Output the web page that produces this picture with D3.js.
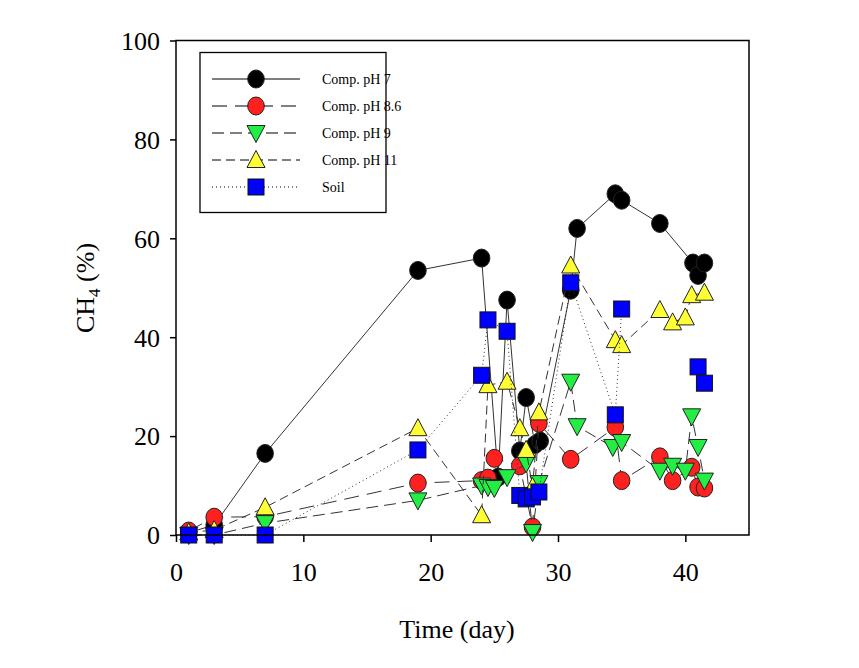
<!DOCTYPE html>
<html><head><meta charset="utf-8">
<script src="https://cdn.jsdelivr.net/npm/d3@7"></script>
<style>body{margin:0;background:#fff}svg{display:block}</style>
</head><body>
<svg id="chart" width="859" height="668"></svg>
<script>
// ---- data ----
const seriesNames = ["Comp. pH 7","Comp. pH 8.6","Comp. pH 9","Comp. pH 11","Soil"];
const ph7X = [1,3,7,19,24,25.3,26,27,27.5,28.2,28.6,31,31.5,34.5,35,38,40.6,41,41.5];
const ph7Y = [0.5,2,16.5,53.5,56,11.7,47.5,17,27.8,18.3,19,49.5,62,69,67.7,63,55,52.5,55];
const ph86X = [1,3,7,19,24,24.5,25,27,28,28.5,31,34.5,35,38,39,40.5,41,41.5];
const ph86Y = [0.8,3.6,3.7,10.5,11,11.5,15.5,14,1.6,22.6,15.3,21.8,11,15.8,11,13.7,9.7,9.5];
const ph9X = [1,3,7,19,24,24.5,25,26,27.5,28,28.5,31,31.5,34.3,35,38,39,40,40.5,41,41.5];
const ph9Y = [0,0,2.4,7,10,9.7,9.5,11.7,14.5,0.6,10.5,31,22,17.8,18.8,13,14,13,24,17.8,11];
const ph11X = [1,3,7,19,24,24.5,26,27,27.5,28,28.5,31,34.5,35,38,39,40,40.5,41.5];
const ph11Y = [0.5,1,5.6,21.6,4,30.3,31,21.6,17.2,9.7,24.8,54.5,39.4,38.4,45.5,43,44,48.5,49];
const soilX = [1,3,7,19,24,24.5,26,27,27.5,28,28.5,31,34.5,35,38,41,41.5];
const soilY = [0,0,0,17.2,32.3,43.5,41.2,8,7.3,7.7,8.7,51,24.3,45.7,null,34,30.7];
const xTicks = [0,10,20,30,40];
const yTicks = [0,20,40,60,80,100];

const svg = d3.select("#chart");
const x = d3.scaleLinear().domain([0,45]).range([176,749]);
const y = d3.scaleLinear().domain([0,100]).range([535,40.5]);
const FONT = "'Liberation Serif','Times New Roman',serif";

const series = [
  {name:seriesNames[0], xs:ph7X, ys:ph7Y, shape:"circle", fill:"#000000", dash:null},
  {name:seriesNames[1], xs:ph86X, ys:ph86Y, shape:"circle", fill:"#ff2020", dash:"15,8"},
  {name:seriesNames[2], xs:ph9X, ys:ph9Y, shape:"down", fill:"#22ee44", dash:"12,6"},
  {name:seriesNames[3], xs:ph11X, ys:ph11Y, shape:"up", fill:"#ffff33", dash:"9,5"},
  {name:seriesNames[4], xs:soilX, ys:soilY, shape:"square", fill:"#0000ff", dash:"1,3"}
];

function drawMarker(g, shape, cx, cy, fill){
  if(shape==="circle"){
    g.append("ellipse").attr("cx",cx).attr("cy",cy).attr("rx",8.3).attr("ry",9)
      .attr("fill",fill).attr("stroke","#222").attr("stroke-width",1);
  } else if(shape==="up"){
    g.append("path").attr("d",`M${cx},${cy-9.5}L${cx+9},${cy+7.5}L${cx-9},${cy+7.5}Z`)
      .attr("fill",fill).attr("stroke","#222").attr("stroke-width",1);
  } else if(shape==="down"){
    g.append("path").attr("d",`M${cx},${cy+9.5}L${cx+9},${cy-7.5}L${cx-9},${cy-7.5}Z`)
      .attr("fill",fill).attr("stroke","#222").attr("stroke-width",1);
  } else {
    g.append("rect").attr("x",cx-8).attr("y",cy-8).attr("width",16).attr("height",16)
      .attr("fill",fill).attr("stroke","#111").attr("stroke-width",1);
  }
}

// plot series
const line = d3.line().defined(d=>d[1]!=null).x(d=>x(d[0])).y(d=>y(d[1]));
series.forEach(s=>{
  const g = svg.append("g");
  const pts = s.xs.map((v,i)=>[v,s.ys[i]]);
  g.append("path").attr("d",line(pts)).attr("fill","none")
    .attr("stroke","#333").attr("stroke-width",1)
    .attr("stroke-dasharray",s.dash);
  pts.filter(p=>p[1]!=null).forEach(p=>drawMarker(g,s.shape,x(p[0]),y(p[1]),s.fill));
});

// frame
svg.append("rect").attr("x",176).attr("y",40.5).attr("width",573).attr("height",494.5)
  .attr("fill","none").attr("stroke","#000").attr("stroke-width",1.5);

// axes
const xAxis = d3.axisBottom(x).tickValues(xTicks).tickSize(7).tickSizeOuter(0).tickPadding(21).tickFormat(d3.format("d"));
const gx = svg.append("g").attr("transform","translate(0,535)").call(xAxis);
const yAxis = d3.axisLeft(y).tickValues(yTicks).tickSize(6).tickSizeOuter(0).tickPadding(10).tickFormat(d3.format("d"));
const gy = svg.append("g").attr("transform","translate(176,0)").call(yAxis);
[gx,gy].forEach(g=>{
  g.select(".domain").remove();
  g.selectAll(".tick line").attr("stroke","#000").attr("stroke-width",1.5);
  g.selectAll(".tick text").attr("font-family",FONT).attr("font-size",26).attr("fill","#000");
});
gx.selectAll(".tick text").attr("dy","0.71em");
gy.selectAll(".tick text").attr("dy","0.34em");

// axis titles
svg.append("text").attr("x",457).attr("y",638).attr("text-anchor","middle")
  .attr("font-family",FONT).attr("font-size",26).text("Time (day)");
const yt = svg.append("text").attr("transform","translate(94,288) rotate(-90)")
  .attr("text-anchor","middle").attr("font-family",FONT).attr("font-size",26);
yt.append("tspan").text("CH");
yt.append("tspan").attr("font-size",17).attr("dy",6).text("4");
yt.append("tspan").attr("dy",-6).text(" (%)");

// legend
const lg = svg.append("g");
lg.append("rect").attr("x",200).attr("y",52.5).attr("width",186).attr("height",160)
  .attr("fill","#fff").attr("stroke","#000").attr("stroke-width",1.3);
series.forEach((s,i)=>{
  const cy = 79 + i*27;
  lg.append("line").attr("x1",212).attr("x2",300).attr("y1",cy).attr("y2",cy)
    .attr("stroke","#000").attr("stroke-width",1).attr("stroke-dasharray",s.dash);
  drawMarker(lg,s.shape,256,cy,s.fill);
  lg.append("text").attr("x",322).attr("y",cy+5).attr("font-family",FONT)
    .attr("font-size",14).text(s.name);
});
</script>
</body></html>
